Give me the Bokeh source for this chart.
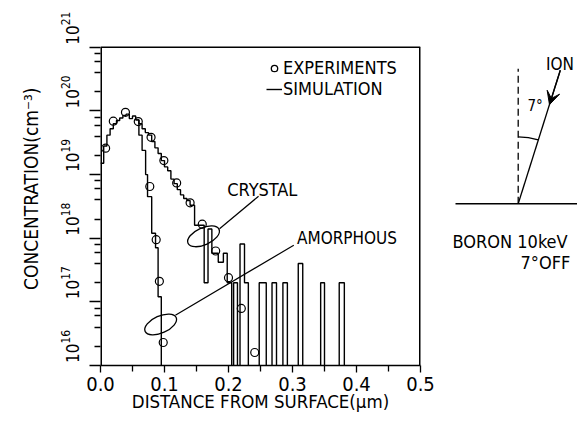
import math
import numpy as np
from bokeh.plotting import figure
from bokeh.layouts import row
from bokeh.models import (FixedTicker, PrintfTickFormatter, CustomJSTickFormatter, LogTickFormatter,
                          LogAxis, LogScale, Title, Legend, LegendItem, Range1d, Arrow, VeeHead)
from bokeh.core.properties import value
from bokeh.embed import file_html
from bokeh.resources import INLINE

FONT = "DejaVu Sans Condensed"

# Measured boron profiles (depth in um, concentration in cm^-3)
exp_crystal_depth = [0.008, 0.020, 0.039, 0.059, 0.079, 0.099, 0.119, 0.140, 0.159, 0.180, 0.200, 0.220, 0.241]
exp_crystal_conc = [2.6e19, 6.9e19, 9.5e19, 6.8e19, 3.85e19, 1.66e19, 7.4e18, 3.6e18, 1.66e18, 6.3e17, 2.4e17, 7.9e16, 1.6e16]
exp_amorph_depth = [0.077, 0.087, 0.092, 0.098]
exp_amorph_conc = [6.5e18, 9.5e17, 2.1e17, 2.3e16]

# Simulated histograms: left edge of each bin and its concentration (0 = empty bin)
sim_crystal_edge = [0.000, 0.005, 0.010, 0.015, 0.020, 0.025, 0.030, 0.035, 0.040, 0.045,
                    0.050, 0.055, 0.060, 0.065, 0.070, 0.075, 0.080, 0.085, 0.090, 0.095,
                    0.100, 0.105, 0.110, 0.115, 0.120, 0.125, 0.130, 0.135, 0.140, 0.147,
                    0.162, 0.168, 0.174, 0.184, 0.192, 0.198, 0.205, 0.208, 0.214, 0.218,
                    0.225, 0.231, 0.248, 0.259, 0.268, 0.275, 0.285, 0.292, 0.309, 0.316,
                    0.344, 0.350, 0.373, 0.381]
sim_crystal_conc = [1.51e19, 2.82e19, 4.17e19, 5.25e19, 6.31e19, 7.08e19, 7.76e19, 8.51e19, 8.91e19, 7.59e19,
                    8.32e19, 7.24e19, 6.31e19, 5.25e19, 4.57e19, 4.17e19, 3.31e19, 2.63e19, 2.14e19, 1.66e19,
                    1.32e19, 1.15e19, 8.5e18, 7.2e18, 5.8e18, 4.8e18, 4.2e18, 3.9e18, 3.3e18, 1.6e18,
                    2.0e17, 1.4e18, 5.8e17, 4.2e17, 5.8e17, 2.0e17, 0, 2.0e17, 0, 8.1e17,
                    2.0e17, 0, 2.0e17, 0, 2.0e17, 0, 2.0e17, 0, 4.0e17, 0,
                    2.0e17, 0, 2.0e17, 0]
sim_amorph_edge = [0.055, 0.060, 0.065, 0.0705, 0.0735, 0.080, 0.086, 0.090, 0.095]
sim_amorph_conc = [7.24e19, 4.17e19, 2.4e19, 1.0e19, 4.5e18, 1.2e18, 7.1e17, 1.2e17, 0]

x_ticks = [0.0, 0.1, 0.2, 0.3, 0.4, 0.5]
x_minor_ticks = [0.05, 0.15, 0.25, 0.35, 0.45]
y_exponents = [16, 17, 18, 19, 20, 21]

FLOOR = 1e14          # empty bins are drawn down past the lower axis limit
HEADROOM = 0.61       # decades of blank space above the box, room for the top decade label
LABEL_LIFT = 0.3      # decade labels sit just above their tick (in decades)
H = 421               # page height in px
BORDER_TOP, BORDER_BOTTOM = 8, 56


def floored(vals):
    v = np.asarray(vals, dtype=float)
    return np.where(v > 0, v, FLOOR)


x_lo, x_hi = x_ticks[0], x_ticks[-1]
y_lo, y_hi = 10.0 ** y_exponents[0], 10.0 ** y_exponents[-1]
p = figure(width=440, height=H, x_range=Range1d(x_lo, x_hi),
           y_range=Range1d(y_lo, 10.0 ** (y_exponents[-1] + HEADROOM)),
           y_axis_type="log", output_backend="svg", toolbar_location=None,
           min_border_left=100, min_border_right=20,
           min_border_top=BORDER_TOP, min_border_bottom=BORDER_BOTTOM)
p.background_fill_color = "white"
p.border_fill_color = "white"
p.outline_line_color = None
p.grid.visible = False

# plot box: top edge plus the two sides (frame edges clip half of the side lines)
p.segment(x0=[x_lo], y0=[y_hi], x1=[x_hi], y1=[y_hi], line_color="black", line_width=1.5)
p.segment(x0=[x_lo, x_hi], y0=[y_lo, y_lo], x1=[x_lo, x_hi], y1=[y_hi, y_hi],
          line_color="black", line_width=3)

# x axis
xa = p.xaxis[0]
xa.ticker = FixedTicker(ticks=x_ticks, minor_ticks=x_minor_ticks)
xa.formatter = PrintfTickFormatter(format="%.1f")
xa.axis_line_width = 1.5
xa.major_tick_in = 0
xa.major_tick_out = 7
xa.minor_tick_in = 0
xa.minor_tick_out = 6
xa.major_tick_line_width = 1.3
xa.minor_tick_line_width = 1.3
xa.major_label_standoff = 4
xa.major_label_text_font = FONT
xa.major_label_text_font_size = "20px"
xa.major_label_text_color = "black"
xa.axis_label = "DISTANCE FROM SURFACE(μm)"
xa.axis_label_text_font = FONT
xa.axis_label_text_font_size = "18.5px"
xa.axis_label_text_font_style = "normal"
xa.axis_label_text_color = "black"
xa.axis_label_standoff = -3

# y axis: ticks only
ya = p.yaxis[0]
y_minor = [m * 10.0 ** e for e in y_exponents[:-1] for m in (2, 4, 6, 8)]
ya.ticker = FixedTicker(ticks=[10.0 ** e for e in y_exponents], minor_ticks=y_minor)
ya.formatter = CustomJSTickFormatter(code="return ''")
ya.major_label_text_font_size = "0px"
ya.major_label_standoff = 0
ya.axis_line_color = None
ya.major_tick_in = 0
ya.major_tick_out = 11
ya.minor_tick_in = 0
ya.minor_tick_out = 6
ya.major_tick_line_width = 1.3
ya.minor_tick_line_width = 1.3

# decade labels (10 with raised exponent), set slightly above each tick
p.extra_y_ranges = {"labels": Range1d(10.0 ** (y_exponents[0] - LABEL_LIFT),
                                      10.0 ** (y_exponents[-1] + HEADROOM - LABEL_LIFT))}
p.extra_y_scales = {"labels": LogScale()}
lab_axis = LogAxis(y_range_name="labels",
                   ticker=FixedTicker(ticks=[10.0 ** e for e in y_exponents], minor_ticks=[]),
                   formatter=LogTickFormatter(),
                   major_tick_out=0, major_tick_in=0, minor_tick_out=0, minor_tick_in=0,
                   axis_line_color=None, major_tick_line_color=None, minor_tick_line_color=None,
                   major_label_orientation="vertical", major_label_standoff=11,
                   major_label_text_font=FONT, major_label_text_font_size="17px",
                   major_label_text_color="black")
p.add_layout(lab_axis, "left")
p.add_layout(Title(text="CONCENTRATION(cm⁻³)", align="right", offset=79, standoff=29,
                   text_font=FONT, text_font_size="19px", text_font_style="normal",
                   text_color="black"), "left")

# simulation histograms
r_sim = p.step(sim_crystal_edge, floored(sim_crystal_conc), mode="after",
               line_color="black", line_width=1.4)
p.step(sim_amorph_edge, floored(sim_amorph_conc), mode="after",
       line_color="black", line_width=1.4)

# experiments
p.scatter(exp_crystal_depth, exp_crystal_conc, marker="circle", size=8,
          fill_color=None, line_color="black", line_width=1.2)
p.scatter(exp_amorph_depth, exp_amorph_conc, marker="circle", size=8,
          fill_color=None, line_color="black", line_width=1.2)

# callouts
ellipse_x = [0.161, 0.094]
ellipse_y = [10 ** 18.03, 10 ** 16.645]
p.ellipse(ellipse_x, ellipse_y, width=34, height=17, width_units="screen", height_units="screen",
          angle=0.42, fill_color=None, line_color="black", line_width=1.3)
p.segment(x0=[0.186, 0.117], y0=[10 ** 18.15, 10 ** 16.79],
          x1=[0.247, 0.302], y1=[10 ** 18.66, 10 ** 17.89],
          line_color="black", line_width=1.2)
p.text(x=[0.198], y=[10 ** 18.77], text=["CRYSTAL"],
       text_font=value(FONT), text_font_size="18px", text_align="left",
       text_baseline="middle", text_color="black")
p.text(x=[0.307], y=[10 ** 18.0], text=["AMORPHOUS"],
       text_font=value(FONT), text_font_size="17px", text_align="left",
       text_baseline="middle", text_color="black")

# legend
leg_marker = p.scatter([float("nan")], [float("nan")], marker="circle", size=13, fill_color=None,
                       line_color="black", line_width=1.3)
legend = Legend(items=[LegendItem(label="EXPERIMENTS", renderers=[leg_marker]),
                       LegendItem(label="SIMULATION", renderers=[r_sim])],
                location=(166, 266), glyph_width=16, glyph_height=20, label_standoff=1,
                spacing=-5, padding=0, margin=0, border_line_color=None,
                background_fill_alpha=0, label_text_font=FONT, label_text_font_size="18px",
                label_text_color="black", label_height=19)
p.add_layout(legend)

# implantation geometry sketch, in page pixels measured up from the bottom edge
q = figure(width=137, height=H, x_range=Range1d(0, 137),
           y_range=Range1d(BORDER_BOTTOM, H - BORDER_TOP),
           output_backend="svg", toolbar_location=None, x_axis_location=None,
           y_axis_location=None, min_border_left=0, min_border_right=0,
           min_border_top=BORDER_TOP, min_border_bottom=BORDER_BOTTOM)
q.outline_line_color = None
q.grid.visible = False
q.background_fill_color = "white"
q.border_fill_color = "white"

base_x, base_y = 77.7, 217.7
tilt = math.radians(17.5)
ion_len = 140
q.segment(x0=[15], y0=[base_y], x1=[137], y1=[base_y], line_color="black", line_width=1.4)
q.segment(x0=[base_x], y0=[base_y], x1=[base_x], y1=[base_y + 135], line_color="black",
          line_width=1.3, line_dash="7 4")
top_x, top_y = base_x + ion_len * math.sin(tilt), base_y + ion_len * math.cos(tilt)
q.segment(x0=[top_x], y0=[top_y], x1=[base_x], y1=[base_y], line_color="black", line_width=1.3)
tip = 104
q.add_layout(Arrow(x_start=top_x, y_start=top_y,
                   x_end=base_x + tip * math.sin(tilt), y_end=base_y + tip * math.cos(tilt),
                   end=VeeHead(size=13, fill_color="black", line_color="black"),
                   line_color="black", line_width=1.3))
q.arc(x=[base_x], y=[base_y], radius=67, start_angle=math.pi / 2 - tilt, end_angle=math.pi / 2,
      line_color="black", line_width=1.3)
q.text(x=[105.5], y=[358], text=["ION"], text_font=value(FONT), text_font_size="17px",
       text_baseline="middle", text_align="left", text_color="black")
q.text(x=[87], y=[316], text=["7°"], text_font=value(FONT), text_font_size="15px",
       text_baseline="middle", text_align="left", text_color="black")
q.text(x=[12, 80], y=[180.5, 159.5], text=["BORON 10keV", "7°OFF"], text_font=value(FONT),
       text_font_size="18px", text_baseline="middle", text_align="left", text_color="black")

layout = row(p, q)
open("out.html", "w").write(file_html(layout, INLINE))
